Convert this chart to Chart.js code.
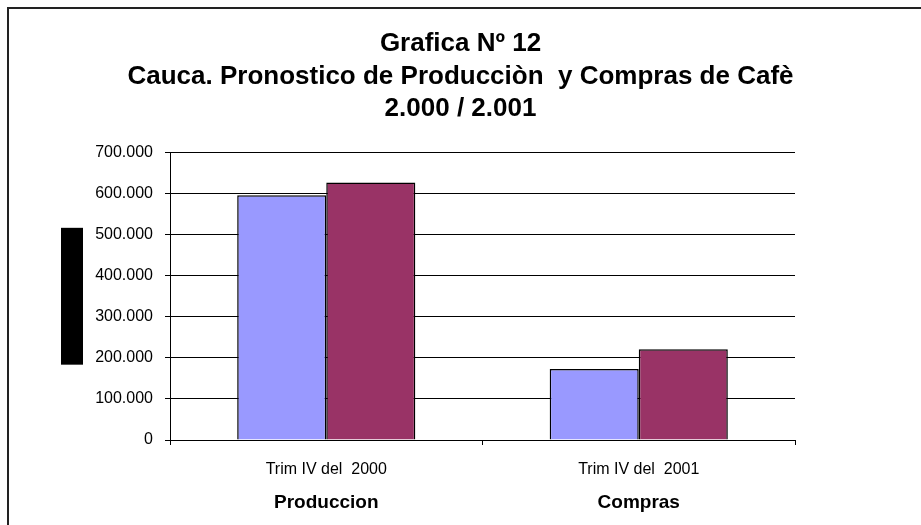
<!DOCTYPE html>
<html>
<head>
<meta charset="utf-8">
<script src="https://cdn.jsdelivr.net/npm/chart.js@4/dist/chart.umd.min.js"></script>
<style>
  body { margin: 0; background: #fff; }
  #wrap { position: relative; width: 921px; height: 525px; }
  #frame { position: absolute; left: 7px; top: 7px; right: -2px; bottom: -2px;
           border-left: 2px solid #222; border-top: 2px solid #222; pointer-events: none; }
</style>
</head>
<body>
<div id="wrap">
  <canvas id="myChart" width="921" height="525"></canvas>
  <div id="frame"></div>
</div>
<script>
// datos
var periodos = ['Trim IV del  2000', 'Trim IV del  2001'];
var grupos = ['Produccion', 'Compras'];
var serieA = [596000, 173000];
var serieB = [627000, 221000];
var tituloLineas = ['Grafica Nº 12', 'Cauca. Pronostico de Producciòn  y Compras de Cafè', '2.000 / 2.001'];

function formatoMiles(v) {
	return String(v).replace(/\B(?=(\d{3})+(?!\d))/g, '.');
}

// caja negra del titulo del eje y
var cajaEje = {
	id: 'cajaEje',
	afterDraw: function(chart) {
		var a = chart.chartArea;
		var ctx = chart.ctx;
		var h = (a.bottom - a.top) * 0.476;
		var cy = (a.top + a.bottom) / 2;
		ctx.save();
		ctx.fillStyle = '#000';
		ctx.fillRect(a.left - 109, cy - h / 2, 22, h);
		ctx.restore();
	}
};

Chart.defaults.font.family = '"Liberation Sans", Arial, sans-serif';
Chart.defaults.color = '#000';

var ctx = document.getElementById('myChart').getContext('2d');
var myChart = new Chart(ctx, {
	type: 'bar',
	data: {
		labels: periodos,
		datasets: [{
			label: 'Serie 1',
			data: serieA,
			backgroundColor: '#9999FF',
			borderColor: '#000',
			borderWidth: 1.5,
			barPercentage: 1,
			categoryPercentage: 0.57
		}, {
			label: 'Serie 2',
			data: serieB,
			backgroundColor: '#993366',
			borderColor: '#000',
			borderWidth: 1.5,
			barPercentage: 1,
			categoryPercentage: 0.57
		}]
	},
	options: {
		responsive: false,
		animation: false,
		layout: { padding: { left: 88, right: 88, top: 10, bottom: 12 } },
		plugins: {
			legend: { display: false },
			tooltip: { enabled: false },
			title: {
				display: true,
				text: tituloLineas,
				color: '#000',
				font: { size: 26, weight: 'bold', lineHeight: 1.25 },
				padding: { top: 18, bottom: 27 }
			}
		},
		scales: {
			y: {
				min: 0,
				max: 700000,
				afterFit: function(scale) { scale.width = 82; },
				ticks: {
					stepSize: 100000,
					color: '#000',
					font: { size: 16 },
					padding: 12,
					callback: function(v) { return formatoMiles(v); }
				},
				grid: { color: '#000', lineWidth: 1, tickLength: 5 },
				border: { color: '#000', width: 1 }
			},
			// eje vacio a la derecha para dejar el titulo centrado
			yDer: {
				position: 'right',
				min: 0,
				max: 700000,
				afterFit: function(scale) { scale.width = 38; },
				ticks: { display: false },
				grid: { display: false },
				border: { display: false }
			},
			x: {
				afterFit: function(scale) { scale.height = 43; },
				ticks: { color: '#000', font: { size: 16 }, padding: 15 },
				grid: { drawOnChartArea: false, color: '#000', tickLength: 5, offset: true },
				border: { color: '#000', width: 1 }
			},
			x2: {
				type: 'category',
				position: 'bottom',
				labels: grupos,
				offset: true,
				afterFit: function(scale) { scale.height = 30; },
				ticks: { color: '#000', font: { size: 19, weight: 'bold' }, padding: 0 },
				grid: { display: false },
				border: { display: false }
			}
		}
	},
	plugins: [cajaEje]
});
</script>
</body>
</html>
